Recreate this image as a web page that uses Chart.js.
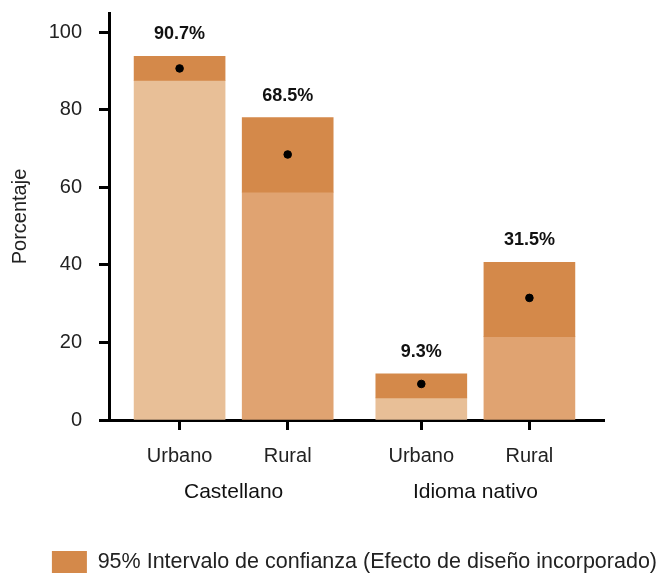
<!DOCTYPE html>
<html>
<head>
<meta charset="utf-8">
<script src="https://cdn.jsdelivr.net/npm/chart.js@4/dist/chart.umd.min.js"></script>
<style>
  html, body { margin: 0; padding: 0; background: #fff; }
  #wrap { width: 660px; height: 576px; }
</style>
</head>
<body>
<div id="wrap"><canvas id="chart" width="660" height="576"></canvas></div>
<script>
// Datos: porcentaje estimado e intervalo de confianza al 95%
const categories = ['Urbano', 'Rural', 'Urbano', 'Rural'];
const groups = ['Castellano', 'Idioma nativo'];
const groupOf = [0, 0, 1, 1];
const estimate = [90.7, 68.5, 9.3, 31.5];
const ciLower = [87.6, 58.8, 5.7, 21.5];
const ciUpper = [93.8, 78.0, 11.9, 40.7];
const yTicks = [0, 20, 40, 60, 80, 100];

const FONT = '"Liberation Sans", Arial, sans-serif';
const TEXT = '#222';
const ciColor = '#d4894a';
const baseColor = { Urbano: '#e8bf97', Rural: '#e0a371' };

// posición de cada barra en el eje x: separación extra entre grupos
const GROUP_GAP = 0.236;
const xPos = categories.map((c, i) => i + groupOf[i] * GROUP_GAP);

const valueLabels = {
  id: 'valueLabels',
  afterDatasetsDraw(chart) {
    const { ctx, scales: { x, y } } = chart;
    ctx.save();
    ctx.font = 'bold 18px ' + FONT;
    ctx.fillStyle = '#111';
    ctx.textAlign = 'center';
    ctx.textBaseline = 'middle';
    estimate.forEach((v, i) => {
      ctx.fillText(v.toFixed(1) + '%', x.getPixelForValue(xPos[i]), y.getPixelForValue(ciUpper[i]) - 22);
    });
    ctx.restore();
  }
};

const groupLabels = {
  id: 'groupLabels',
  afterDraw(chart) {
    const { ctx, scales: { x } } = chart;
    ctx.save();
    ctx.font = '21px ' + FONT;
    ctx.fillStyle = '#111';
    ctx.textAlign = 'center';
    ctx.textBaseline = 'middle';
    groups.forEach((g, gi) => {
      const members = xPos.filter((p, i) => groupOf[i] === gi);
      const mid = (Math.min(...members) + Math.max(...members)) / 2;
      ctx.fillText(g, x.getPixelForValue(mid), 492);
    });
    ctx.restore();
  }
};

new Chart(document.getElementById('chart'), {
  data: {
    datasets: [
      {
        type: 'bar',
        label: 'Base',
        data: xPos.map((p, i) => ({ x: p, y: ciLower[i] })),
        backgroundColor: categories.map(c => baseColor[c]),
        grouped: false,
        barThickness: 91,
        order: 3
      },
      {
        type: 'bar',
        label: '95% Intervalo de confianza (Efecto de diseño incorporado)',
        data: xPos.map((p, i) => ({ x: p, y: [ciLower[i], ciUpper[i]] })),
        backgroundColor: ciColor,
        grouped: false,
        barThickness: 91,
        order: 2
      },
      {
        type: 'scatter',
        label: 'Estimación',
        data: xPos.map((p, i) => ({ x: p, y: estimate[i] })),
        backgroundColor: '#000',
        borderColor: '#000',
        pointRadius: 3.8,
        order: 1
      }
    ]
  },
  options: {
    responsive: false,
    animation: false,
    layout: { padding: { top: 13, left: 0, right: 0, bottom: -7 } },
    plugins: {
      tooltip: { enabled: false },
      legend: {
        position: 'bottom',
        align: 'end',
        labels: {
          filter: item => item.datasetIndex === 1,
          boxWidth: 35,
          boxHeight: 22,
          padding: 3,
          color: TEXT,
          font: { family: FONT, size: 21.5 }
        }
      }
    },
    scales: {
      x: {
        type: 'linear',
        offset: false,
        min: -0.653,
        max: 3.926,
        afterBuildTicks: s => { s.ticks = xPos.map(v => ({ value: v })); },
        afterFit: s => { s.height = 128; },
        ticks: {
          callback: (v) => categories[xPos.indexOf(v)],
          color: TEXT,
          padding: 14,
          font: { family: FONT, size: 20 }
        },
        grid: { display: true, offset: false, drawOnChartArea: false, tickLength: 10, tickWidth: 3, tickColor: '#000' },
        border: { display: true, color: '#000', width: 3 }
      },
      y: {
        min: 0,
        max: 105,
        afterBuildTicks: s => { s.ticks = yTicks.map(v => ({ value: v })); },
        afterFit: s => {
          s.width = 109;
          // sin margen extra por las etiquetas extremas
          s.paddingTop = 0;
          s.paddingBottom = 0;
        },
        ticks: {
          color: TEXT,
          padding: 17,
          font: { family: FONT, size: 20 }
        },
        grid: { display: true, drawOnChartArea: false, tickLength: 10, tickWidth: 3, tickColor: '#000' },
        border: { display: true, color: '#000', width: 3 },
        title: {
          display: true,
          text: 'Porcentaje',
          color: TEXT,
          padding: { top: 8, bottom: 0 },
          font: { family: FONT, size: 20 }
        }
      },
      // eje derecho vacío: reserva el margen a la derecha del área de trazado
      yRight: {
        position: 'right',
        display: true,
        afterFit: s => { s.width = 56; s.paddingTop = 0; s.paddingBottom = 0; },
        ticks: { display: false },
        grid: { display: false },
        border: { display: false }
      }
    }
  },
  plugins: [valueLabels, groupLabels]
});
</script>
</body>
</html>
